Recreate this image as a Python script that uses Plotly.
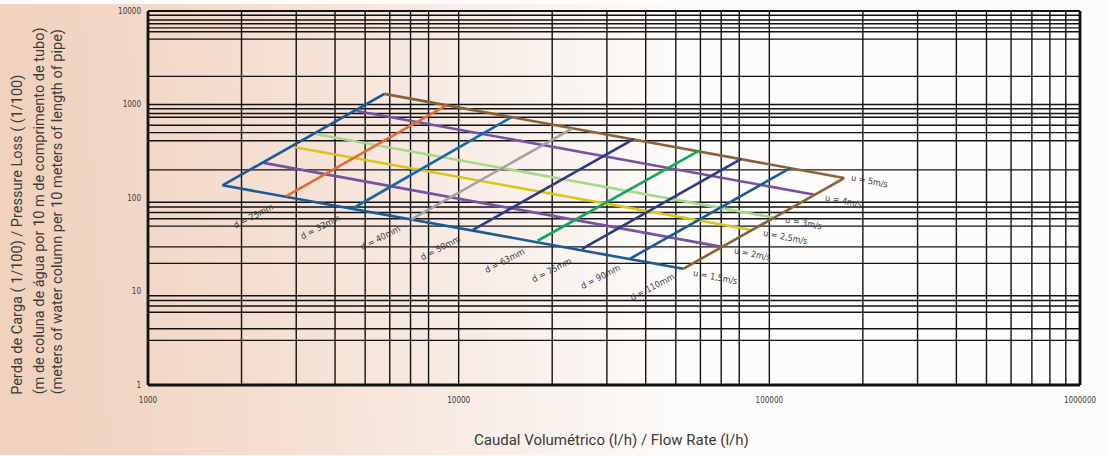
import base64
import struct
import zlib

import numpy as np
import plotly.graph_objects as go

W, H = 1106, 456
ML, MR, MT, MB = 148, 26, 7, 71
PW, PH = W - ML - MR, H - MT - MB

# ---- nomogram data -------------------------------------------------------
# Pipe diameter lines: flow rate (l/h) and pressure loss at the
# u = 1,5 m/s end (low) and at the u = 5 m/s end (high).
diam_labels = ["d = 25mm", "d = 32mm", "d = 40mm", "d = 50mm", "d = 63mm",
               "d = 75mm", "d = 90mm", "d = 110mm", ""]
diam_flow_low = [1737, 2790, 4574, 7045, 11125, 17960, 24950, 35680, 52840]
diam_loss_low = [136.8, 104.6, 77.7, 59.1, 45.7, 34.9, 28.5, 22.5, 17.5]
diam_flow_high = [5767, 9129, 14850, 23170, 36570, 59500, 81220, 116750, 174200]
diam_loss_high = [1299, 976, 736, 553, 426, 321, 261.8, 208.6, 163.5]

# Flow velocity lines: start on the d = 25mm line, end on the outer frame.
vel_labels = ["u = 1,5m/s", "u = 2m/s", "u = 2,5m/s", "u = 3m/s", "u = 4m/s", "u = 5m/s"]
vel_flow_start = [1737, 2358, 2945, 3485, 4697, 5767]
vel_loss_start = [136.8, 237.4, 350.6, 481.5, 851.9, 1299]
vel_flow_end = [52840, 69500, 86830, 102540, 138750, 174200]
vel_loss_end = [17.5, 30.2, 45.7, 61.9, 108.8, 163.5]

# Axis ticks and grid
x_tick_vals = [1000, 10000, 100000, 1000000]
x_tick_text = ["1000", "10000", "100000", "1000000"]
y_tick_vals = [1, 10, 100, 1000, 10000]
y_tick_text = ["1", "10", "100", "1000", "10000"]
x_grid = [2000, 3000, 4000, 5000, 6000, 7000, 8000, 10000,
          20000, 30000, 40000, 50000, 60000, 70000, 80000, 100000,
          200000, 300000, 400000, 500000, 600000, 700000, 800000, 900000]
y_grid = [9000, 8000, 7300, 6600, 6000, 5000, 2000,
          1000, 900, 800, 730, 600, 500, 410, 200,
          90, 80, 70, 60, 50, 30, 20,
          9, 8, 7, 6, 4, 3]

# ---- styling -------------------------------------------------------------
diam_colors = ["#175b97", "#e46c34", "#1a69a6", "#a2a2a2", "#2c3a88",
               "#13a65d", "#2c3a88", "#175d99", "#8a6234"]
vel_colors = ["#175b97", "#7851a1", "#dcc41e", "#a8d98b", "#7851a1", "#8a6234"]
diam_label_shift = [(31, 31), (34, 31), (27, 30), (29, 29), (31, 31),
                    (14, 29), (18, 28), (22, 28)]
vel_label_shift = [(32, 8), (32, 7), (35, 7), (31, 6), (30, 6), (25, 3)]

LABEL_FONT = "DejaVu Sans Condensed, Liberation Sans Narrow, sans-serif"
TITLE_FONT = "Roboto, Open Sans, sans-serif"
TEXT_COLOR = "#3a3a3a"


def gradient_png(w, h):
    """Soft peach-to-white backdrop, encoded as a PNG data URI."""
    xs = np.linspace(0.0, 1.0, w)[None, :] * W
    ys = np.linspace(0.0, 1.0, h)[:, None]
    f = np.clip(xs / 680.0, 0.0, 1.0) ** 1.15
    f = np.clip(f - 0.04 * ys * (1 - f), 0.0, 1.0)
    peach = np.array([241.0, 210.0, 191.0])
    white = np.array([253.0, 252.0, 251.0])
    img = peach[None, None, :] + (white - peach)[None, None, :] * f[..., None]
    img = np.clip(img, 0, 255).astype(np.uint8)
    raw = b"".join(b"\x00" + row.tobytes() for row in img)

    def chunk(tag, data):
        return (struct.pack(">I", len(data)) + tag + data
                + struct.pack(">I", zlib.crc32(tag + data) & 0xFFFFFFFF))

    png = (b"\x89PNG\r\n\x1a\n"
           + chunk(b"IHDR", struct.pack(">IIBBBBB", w, h, 8, 2, 0, 0, 0))
           + chunk(b"IDAT", zlib.compress(raw, 9))
           + chunk(b"IEND", b""))
    return "data:image/png;base64," + base64.b64encode(png).decode()


fig = go.Figure()

# velocity lines
for i in range(len(vel_labels)):
    fig.add_trace(go.Scatter(
        x=[vel_flow_start[i], vel_flow_end[i]],
        y=[vel_loss_start[i], vel_loss_end[i]],
        mode="lines", line=dict(color=vel_colors[i], width=2.6),
        hoverinfo="skip", showlegend=False))

# diameter lines
for i in range(len(diam_labels)):
    fig.add_trace(go.Scatter(
        x=[diam_flow_low[i], diam_flow_high[i]],
        y=[diam_loss_low[i], diam_loss_high[i]],
        mode="lines", line=dict(color=diam_colors[i], width=2.6),
        hoverinfo="skip", showlegend=False))

annotations = []
for i, lab in enumerate(diam_labels):
    if not lab:
        continue
    dx, dy = diam_label_shift[i]
    annotations.append(dict(
        x=np.log10(diam_flow_low[i]), y=np.log10(diam_loss_low[i]),
        xref="x", yref="y", text=lab, showarrow=False, textangle=-27,
        xshift=dx, yshift=-dy, xanchor="center", yanchor="middle",
        font=dict(family=LABEL_FONT, size=9, color=TEXT_COLOR)))
for i, lab in enumerate(vel_labels):
    dx, dy = vel_label_shift[i]
    annotations.append(dict(
        x=np.log10(vel_flow_end[i]), y=np.log10(vel_loss_end[i]),
        xref="x", yref="y", text=lab, showarrow=False, textangle=11,
        xshift=dx, yshift=-dy, xanchor="center", yanchor="middle",
        font=dict(family=LABEL_FONT, size=9, color=TEXT_COLOR)))

# axis titles
annotations.append(dict(
    x=(611 - ML) / PW, y=(385 - 441) / PH, xref="paper", yref="paper",
    text="Caudal Volumétrico (l/h) / Flow Rate (l/h)", showarrow=False,
    xanchor="center", yanchor="middle",
    font=dict(family=TITLE_FONT, size=15, color=TEXT_COLOR)))
y_title_lines = ["Perda de Carga ( 1/100) / Pressure Loss ( (1/100)",
                 "(m de coluna de água por 10 m de comprimento de tubo)",
                 "(meters of water column per 10 meters of length of pipe)"]
for px, line in zip([18, 39, 57], y_title_lines):
    annotations.append(dict(
        x=(px - ML) / PW, y=(385 - 397) / PH, xref="paper", yref="paper",
        text=line, showarrow=False, textangle=-90,
        xanchor="center", yanchor="bottom",
        font=dict(family=TITLE_FONT, size=14.5, color=TEXT_COLOR)))

# grid and frame (shape coordinates are given as axis values)
shapes = []
for v in x_grid:
    shapes.append(dict(type="line", xref="x", yref="y domain",
                       x0=v, x1=v, y0=0, y1=1,
                       line=dict(color="#121212", width=1.4), layer="below"))
for v in y_grid:
    shapes.append(dict(type="line", xref="x domain", yref="y",
                       x0=0, x1=1, y0=v, y1=v,
                       line=dict(color="#121212", width=1.4), layer="below"))
frame = [((0, 0), (0, 1), 2.8), ((0, 0), (1, 0), 2.8),
         ((1, 0), (1, 1), 2.8), ((0, 1), (1, 1), 2.0)]
for (x0, y0), (x1, y1), w in frame:
    shapes.append(dict(type="line", xref="x domain", yref="y domain",
                       x0=x0, y0=y0, x1=x1, y1=y1,
                       line=dict(color="#111111", width=w), layer="above"))

fig.update_layout(
    width=W, height=H,
    margin=dict(l=ML, r=MR, t=MT, b=MB, pad=0),
    paper_bgcolor="#fdfcfb", plot_bgcolor="rgba(0,0,0,0)",
    showlegend=False,
    annotations=annotations,
    shapes=shapes,
    images=[dict(source=gradient_png(277, 114), xref="paper", yref="paper",
                 x=-ML / PW, y=1 + MT / PH, sizex=W / PW, sizey=H / PH,
                 xanchor="left", yanchor="top", sizing="stretch",
                 layer="below")],
    xaxis=dict(type="log", range=[3, 6], showgrid=False, zeroline=False,
               showline=False, ticks="", tickvals=x_tick_vals,
               ticktext=x_tick_text, ticklabelstandoff=9,
               tickfont=dict(family=LABEL_FONT, size=8, color=TEXT_COLOR)),
    yaxis=dict(type="log", range=[0, 4], showgrid=False, zeroline=False,
               showline=False, ticks="", tickvals=y_tick_vals,
               ticktext=y_tick_text, ticklabelstandoff=6,
               tickfont=dict(family=LABEL_FONT, size=8, color=TEXT_COLOR)),
)

fig.write_html("out.html")
